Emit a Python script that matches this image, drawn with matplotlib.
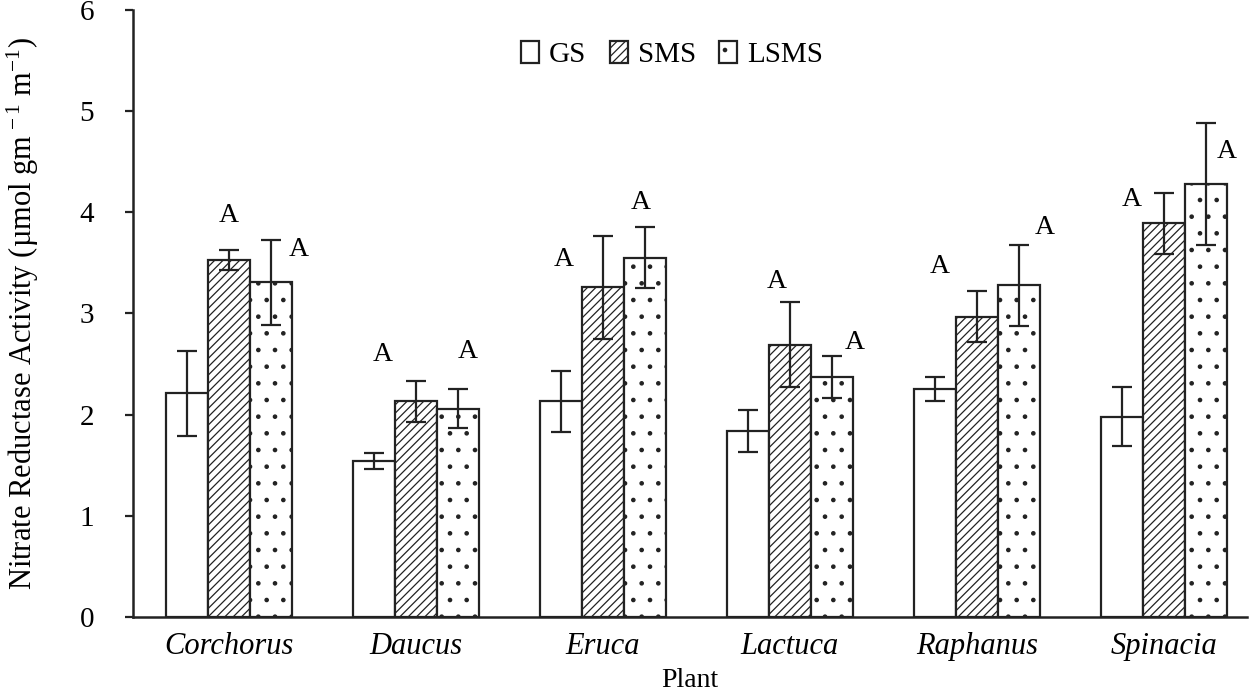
import matplotlib

matplotlib.use("Agg")
import matplotlib.pyplot as plt
import numpy as np

plt.rcParams["font.family"] = ["Liberation Serif", "DejaVu Serif"]
plt.rcParams["mathtext.fontset"] = "custom"
plt.rcParams["mathtext.rm"] = "Liberation Serif"
plt.rcParams["mathtext.it"] = "Liberation Serif:italic"
plt.rcParams["hatch.linewidth"] = 0.9
plt.rcParams["hatch.color"] = "#333333"

plants = ["Corchorus", "Daucus", "Eruca", "Lactuca", "Raphanus", "Spinacia"]
series = ["GS", "SMS", "LSMS"]

gs = [2.21, 1.54, 2.13, 1.84, 2.25, 1.98]
gs_err = [0.42, 0.08, 0.30, 0.21, 0.12, 0.29]
sms = [3.53, 2.13, 3.26, 2.69, 2.97, 3.89]
sms_err = [0.10, 0.20, 0.51, 0.42, 0.25, 0.30]
lsms = [3.31, 2.06, 3.55, 2.37, 3.28, 4.28]
lsms_err = [0.42, 0.19, 0.30, 0.21, 0.40, 0.60]

# significance letters: horizontal offset from bar centre and height
sms_letter_dx = [0.0, -0.18, -0.21, -0.07, -0.20, -0.17]
sms_letter_y = [3.97, 2.59, 3.53, 3.32, 3.46, 4.13]
lsms_letter_dx = [0.15, 0.05, -0.02, 0.12, 0.14, 0.11]
lsms_letter_y = [3.63, 2.62, 4.10, 2.71, 3.85, 4.60]

x = np.arange(len(plants))
width = 0.2246

fig = plt.figure(figsize=(12.57, 6.94), dpi=100)
ax = fig.add_axes([0.1058, 0.111, 0.8862, 0.8746])

bar_kw = dict(width=width, edgecolor="#222222", linewidth=1.6, zorder=2)
err_kw = dict(fmt="none", ecolor="#222222", elinewidth=1.6, capsize=7, capthick=1.6, zorder=3)

ax.bar(x - width, gs, facecolor="white", label=series[0], **bar_kw)
ax.bar(x, sms, facecolor="white", hatch="////", label=series[1], **bar_kw)
ax.bar(x + width, lsms, facecolor="white", hatch=".", label=series[2], **bar_kw)

ax.errorbar(x - width, gs, yerr=gs_err, **err_kw)
ax.errorbar(x, sms, yerr=sms_err, **err_kw)
ax.errorbar(x + width, lsms, yerr=lsms_err, **err_kw)

for i in range(len(plants)):
    ax.text(x[i] + sms_letter_dx[i], sms_letter_y[i], "A", ha="center", va="center", fontsize=20)
    ax.text(x[i] + width + lsms_letter_dx[i], lsms_letter_y[i], "A", ha="center", va="center", fontsize=20)

ax.set_xlim(-0.513, 5.444)
ax.set_ylim(0, 6)
ax.set_yticks(range(0, 7))
ax.set_xticks(x)
ax.set_xticklabels(plants, fontstyle="italic", fontsize=22)
ax.tick_params(axis="x", length=0, pad=11)
ax.tick_params(axis="y", length=6, width=1.6, direction="out", labelsize=21, pad=22, color="#222222")

for side in ("top", "right"):
    ax.spines[side].set_visible(False)
for side in ("left", "bottom"):
    ax.spines[side].set_linewidth(1.8)
    ax.spines[side].set_color("#222222")

ax.set_xlabel("Plant", fontsize=20, labelpad=5)
ax.set_ylabel("Nitrate Reductase Activity (µmol gm$^{\\,-1}$ m$^{-1}$)", fontsize=22, labelpad=28)

leg = ax.legend(
    loc="center",
    bbox_to_anchor=(0.484, 0.926),
    ncol=3,
    frameon=False,
    fontsize=21,
    handlelength=0.62,
    handleheight=0.75,
    handletextpad=0.35,
    columnspacing=0.8,
)

fig.savefig("out.png", dpi=100)
